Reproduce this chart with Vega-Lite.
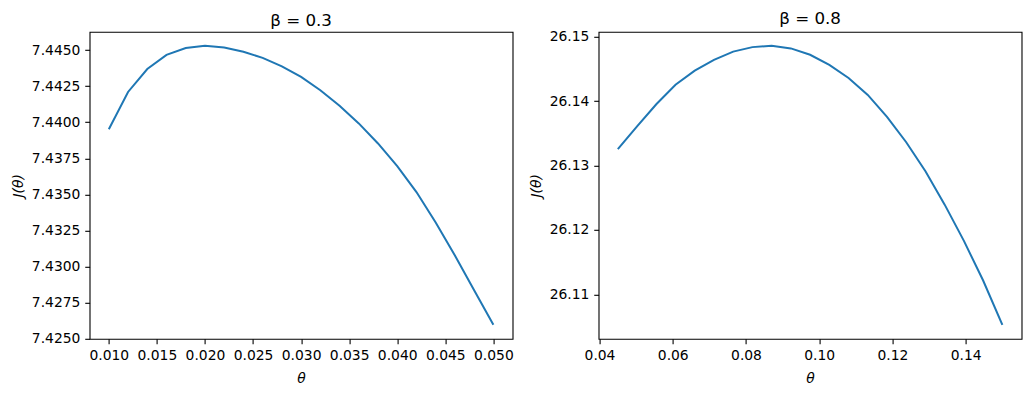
{
  "$schema": "https://vega.github.io/schema/vega-lite/v6.json",
  "padding": {"left": 10.6, "top": 9.8, "right": 10, "bottom": 5},
  "bounds": "flush",
  "spacing": 86,
  "config": {
    "view": {"stroke": "#000000", "strokeWidth": 1.1},
    "font": "DejaVu Sans",
    "axis": {
      "grid": false, "domain": false,
      "tickColor": "#000000", "tickSize": 4.86, "tickWidth": 1.1,
      "labelPadding": 4.86, "labelColor": "#000000", "labelFont": "DejaVu Sans", "labelFontSize": 13.9,
      "labelFlush": false, "labelOverlap": false,
      "titleFont": "DejaVu Sans", "titleFontSize": 13.9, "titleFontWeight": "normal", "titleFontStyle": "italic", "titleColor": "#000000"
    },
    "axisX": {"titlePadding": 9},
    "axisY": {"titlePadding": 6},
    "title": {"font": "DejaVu Sans", "fontSize": 16.7, "fontWeight": "normal", "color": "#000000", "baseline": "alphabetic", "offset": 2.5, "frame": "group", "anchor": "middle"}
  },
  "datasets": {
    "b03": [
      {"theta": 0.010, "J": 7.43952},
      {"theta": 0.012, "J": 7.44210},
      {"theta": 0.014, "J": 7.44369},
      {"theta": 0.016, "J": 7.44467},
      {"theta": 0.018, "J": 7.44514},
      {"theta": 0.020, "J": 7.44530},
      {"theta": 0.022, "J": 7.44518},
      {"theta": 0.024, "J": 7.44489},
      {"theta": 0.026, "J": 7.44446},
      {"theta": 0.028, "J": 7.44388},
      {"theta": 0.030, "J": 7.44314},
      {"theta": 0.032, "J": 7.44222},
      {"theta": 0.034, "J": 7.44114},
      {"theta": 0.036, "J": 7.43992},
      {"theta": 0.038, "J": 7.43853},
      {"theta": 0.040, "J": 7.43696},
      {"theta": 0.042, "J": 7.43516},
      {"theta": 0.044, "J": 7.43305},
      {"theta": 0.046, "J": 7.43077},
      {"theta": 0.048, "J": 7.42835},
      {"theta": 0.050, "J": 7.42596}
    ],
    "b08": [
      {"theta": 0.04500, "J": 26.13255},
      {"theta": 0.05025, "J": 26.13610},
      {"theta": 0.05550, "J": 26.13952},
      {"theta": 0.06075, "J": 26.14256},
      {"theta": 0.06600, "J": 26.14474},
      {"theta": 0.07125, "J": 26.14642},
      {"theta": 0.07650, "J": 26.14770},
      {"theta": 0.08175, "J": 26.14840},
      {"theta": 0.08700, "J": 26.14861},
      {"theta": 0.09225, "J": 26.14820},
      {"theta": 0.09750, "J": 26.14721},
      {"theta": 0.10275, "J": 26.14565},
      {"theta": 0.10800, "J": 26.14361},
      {"theta": 0.11325, "J": 26.14098},
      {"theta": 0.11850, "J": 26.13758},
      {"theta": 0.12375, "J": 26.13362},
      {"theta": 0.12900, "J": 26.12911},
      {"theta": 0.13425, "J": 26.12393},
      {"theta": 0.13950, "J": 26.11830},
      {"theta": 0.14475, "J": 26.11214},
      {"theta": 0.15000, "J": 26.10526}
    ]
  },
  "hconcat": [
    {
      "width": 423, "height": 307,
      "title": "β = 0.3",
      "data": {"name": "b03"},
      "mark": {"type": "line", "color": "#1f77b4", "strokeWidth": 2},
      "encoding": {
        "x": {"field": "theta", "type": "quantitative", "title": "θ",
          "scale": {"domain": [0.008, 0.052], "nice": false, "zero": false},
          "axis": {"values": [0.010, 0.015, 0.020, 0.025, 0.030, 0.035, 0.040, 0.045, 0.050], "format": ".3f"}},
        "y": {"field": "J", "type": "quantitative", "title": "J(θ)",
          "scale": {"domain": [7.42499, 7.44627], "nice": false, "zero": false},
          "axis": {"values": [7.4250, 7.4275, 7.4300, 7.4325, 7.4350, 7.4375, 7.4400, 7.4425, 7.4450], "format": ".4f"}}
      }
    },
    {
      "width": 423, "height": 307,
      "title": "β = 0.8",
      "data": {"name": "b08"},
      "mark": {"type": "line", "color": "#1f77b4", "strokeWidth": 2},
      "encoding": {
        "x": {"field": "theta", "type": "quantitative", "title": "θ",
          "scale": {"domain": [0.03975, 0.15525], "nice": false, "zero": false},
          "axis": {"values": [0.04, 0.06, 0.08, 0.10, 0.12, 0.14], "format": ".2f"}},
        "y": {"field": "J", "type": "quantitative", "title": "J(θ)",
          "scale": {"domain": [26.10309, 26.15078], "nice": false, "zero": false},
          "axis": {"values": [26.11, 26.12, 26.13, 26.14, 26.15], "format": ".2f"}}
      }
    }
  ]
}
